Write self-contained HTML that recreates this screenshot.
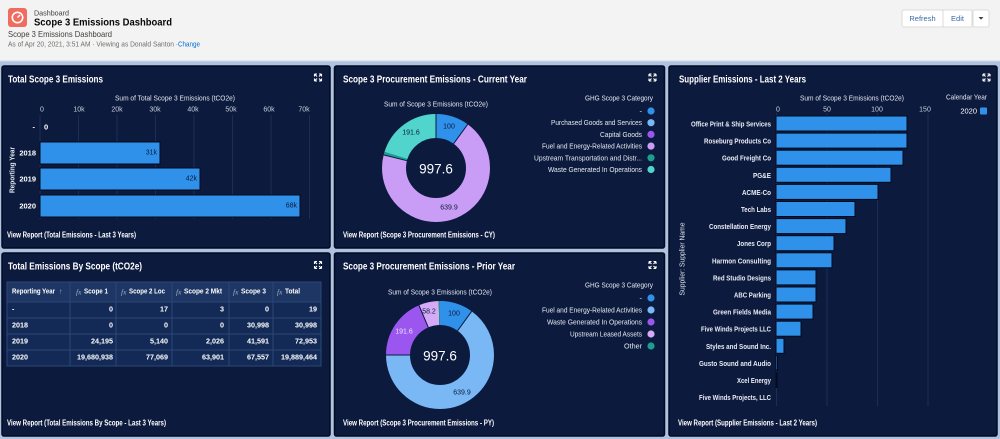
<!DOCTYPE html>
<html><head><meta charset="utf-8">
<style>
html,body{margin:0;padding:0;width:1000px;height:439px;overflow:hidden;background:#adc3e0;}
svg{display:block;font-family:"Liberation Sans",sans-serif;}
</style></head><body>
<svg width="1000" height="439" viewBox="0 0 1000 439" xmlns="http://www.w3.org/2000/svg">
<rect width="1000" height="439" fill="#adc3e0"/>

<!-- HEADER -->
<rect x="0" y="0" width="1000" height="61" fill="#f3f3f3"/>
<line x1="0" y1="61" x2="1000" y2="61" stroke="#d4d9e2"/>
<rect x="8" y="8" width="19" height="19" rx="3" fill="#ef6c5e"/>
<circle cx="17.5" cy="17.5" r="5.2" fill="none" stroke="#fff" stroke-width="1.6"/>
<path d="M17.5 17.5 L20 15" stroke="#fff" stroke-width="1.4"/>
<g dominant-baseline="central">
<text x="34" y="13" font-size="7.2" fill="#3e3e3c" textLength="35" lengthAdjust="spacingAndGlyphs">Dashboard</text>
<text x="34" y="22.5" font-size="10.5" font-weight="bold" fill="#080707" textLength="138" lengthAdjust="spacingAndGlyphs">Scope 3 Emissions Dashboard</text>
<text x="8" y="34" font-size="8.5" fill="#3e3e3c" textLength="104" lengthAdjust="spacingAndGlyphs">Scope 3 Emissions Dashboard</text>
<text x="8" y="45" font-size="7" fill="#706e6b" textLength="170" lengthAdjust="spacingAndGlyphs">As of Apr 20, 2021, 3:51 AM · Viewing as Donald Santon ·</text>
<text x="178" y="45" font-size="7" fill="#0070d2" textLength="22" lengthAdjust="spacingAndGlyphs">Change</text>
</g>
<rect x="902" y="10" width="41" height="17" rx="2" fill="#fff" stroke="#dddbda"/>
<rect x="943" y="10" width="29" height="17" rx="0" fill="#fff" stroke="#dddbda"/>
<rect x="973" y="10" width="16" height="17" rx="2" fill="#fff" stroke="#dddbda"/>
<g dominant-baseline="central" text-anchor="middle" font-size="7.5" fill="#3b6aa6">
<text x="922.5" y="18.5">Refresh</text>
<text x="957.5" y="18.5">Edit</text>
</g>
<path d="M978.5 17 L983.5 17 L981 19.8 Z" fill="#444"/>

<!-- PANELS -->
<g fill="#0c1a3e" stroke="#030b22" stroke-width="1.5">
<rect x="2" y="66" width="328" height="182" rx="2"/>
<rect x="2" y="253" width="328" height="183" rx="2"/>
<rect x="334.5" y="66" width="330" height="182" rx="2"/>
<rect x="334.5" y="253" width="330" height="183" rx="2"/>
<rect x="669" y="66" width="328" height="370" rx="2"/>
</g>

<!-- expand icons -->
<g stroke="#fff" stroke-width="1.1" fill="none">
<path transform="translate(318,77.5)" d="M-3.5,-3.5h2.5M-3.5,-3.5v2.5M-3.5,-3.5l2.5,2.5M3.5,-3.5h-2.5M3.5,-3.5v2.5M3.5,-3.5l-2.5,2.5M-3.5,3.5h2.5M-3.5,3.5v-2.5M-3.5,3.5l2.5,-2.5M3.5,3.5h-2.5M3.5,3.5v-2.5M3.5,3.5l-2.5,-2.5"/>
<path transform="translate(318,265)" d="M-3.5,-3.5h2.5M-3.5,-3.5v2.5M-3.5,-3.5l2.5,2.5M3.5,-3.5h-2.5M3.5,-3.5v2.5M3.5,-3.5l-2.5,2.5M-3.5,3.5h2.5M-3.5,3.5v-2.5M-3.5,3.5l2.5,-2.5M3.5,3.5h-2.5M3.5,3.5v-2.5M3.5,3.5l-2.5,-2.5"/>
<path transform="translate(652.5,77.5)" d="M-3.5,-3.5h2.5M-3.5,-3.5v2.5M-3.5,-3.5l2.5,2.5M3.5,-3.5h-2.5M3.5,-3.5v2.5M3.5,-3.5l-2.5,2.5M-3.5,3.5h2.5M-3.5,3.5v-2.5M-3.5,3.5l2.5,-2.5M3.5,3.5h-2.5M3.5,3.5v-2.5M3.5,3.5l-2.5,-2.5"/>
<path transform="translate(652.5,265)" d="M-3.5,-3.5h2.5M-3.5,-3.5v2.5M-3.5,-3.5l2.5,2.5M3.5,-3.5h-2.5M3.5,-3.5v2.5M3.5,-3.5l-2.5,2.5M-3.5,3.5h2.5M-3.5,3.5v-2.5M-3.5,3.5l2.5,-2.5M3.5,3.5h-2.5M3.5,3.5v-2.5M3.5,3.5l-2.5,-2.5"/>
<path transform="translate(986.5,77.5)" d="M-3.5,-3.5h2.5M-3.5,-3.5v2.5M-3.5,-3.5l2.5,2.5M3.5,-3.5h-2.5M3.5,-3.5v2.5M3.5,-3.5l-2.5,2.5M-3.5,3.5h2.5M-3.5,3.5v-2.5M-3.5,3.5l2.5,-2.5M3.5,3.5h-2.5M3.5,3.5v-2.5M3.5,3.5l-2.5,-2.5"/>
</g>

<!-- PANEL TITLES & VIEW REPORT -->
<g dominant-baseline="central" fill="#ffffff" font-weight="bold" lengthAdjust="spacingAndGlyphs">
<text x="8" y="80" font-size="10" textLength="95" lengthAdjust="spacingAndGlyphs">Total Scope 3 Emissions</text>
<text x="343" y="80" font-size="10" textLength="184" lengthAdjust="spacingAndGlyphs">Scope 3 Procurement Emissions - Current Year</text>
<text x="679" y="80" font-size="10" textLength="127" lengthAdjust="spacingAndGlyphs">Supplier Emissions - Last 2 Years</text>
<text x="8" y="267" font-size="10" textLength="134" lengthAdjust="spacingAndGlyphs">Total Emissions By Scope (tCO2e)</text>
<text x="343" y="267" font-size="10" textLength="172" lengthAdjust="spacingAndGlyphs">Scope 3 Procurement Emissions - Prior Year</text>
<text x="7" y="235" font-size="8" textLength="129" lengthAdjust="spacingAndGlyphs">View Report (Total Emissions - Last 3 Years)</text>
<text x="343" y="235" font-size="8" textLength="152" lengthAdjust="spacingAndGlyphs">View Report (Scope 3 Procurement Emissions - CY)</text>
<text x="7" y="423" font-size="8" textLength="159" lengthAdjust="spacingAndGlyphs">View Report (Total Emissions By Scope - Last 3 Years)</text>
<text x="343" y="423" font-size="8" textLength="151" lengthAdjust="spacingAndGlyphs">View Report (Scope 3 Procurement Emissions - PY)</text>
<text x="678" y="423" font-size="8" textLength="139" lengthAdjust="spacingAndGlyphs">View Report (Supplier Emissions - Last 2 Years)</text>
</g>

<!-- TOP-LEFT BAR CHART -->
<g stroke="#1e2d55" stroke-width="1">
<line x1="78.5" y1="115" x2="78.5" y2="219"/>
<line x1="117" y1="115" x2="117" y2="219"/>
<line x1="155.5" y1="115" x2="155.5" y2="219"/>
<line x1="194" y1="115" x2="194" y2="219"/>
<line x1="232.5" y1="115" x2="232.5" y2="219"/>
<line x1="271" y1="115" x2="271" y2="219"/>
<line x1="309.5" y1="115" x2="309.5" y2="219"/>
<line x1="40" y1="115" x2="40" y2="219"/>
</g>
<g dominant-baseline="central">
<text x="175" y="98" font-size="7.5" fill="#e3e7ee" text-anchor="middle" textLength="120" lengthAdjust="spacingAndGlyphs">Sum of Total Scope 3 Emissions (tCO2e)</text>
<g font-size="7" fill="#c8d0dd" text-anchor="middle">
<text x="42" y="110">0</text><text x="79" y="110">10k</text><text x="117" y="110">20k</text><text x="155" y="110">30k</text>
<text x="193" y="110">40k</text><text x="231" y="110">50k</text><text x="269" y="110">60k</text><text x="304" y="110">70k</text>
</g>
<g font-size="7.5" font-weight="bold" fill="#fff" text-anchor="end">
<text x="35" y="127">-</text><text x="36" y="153">2018</text><text x="36" y="179">2019</text><text x="36" y="206">2020</text>
</g>
<text x="44" y="127" font-size="7.5" font-weight="bold" fill="#fff">0</text>
<text transform="translate(12,170) rotate(-90)" x="0" y="0" font-size="7.5" font-weight="bold" fill="#e3e7ee" text-anchor="middle" textLength="46" lengthAdjust="spacingAndGlyphs">Reporting Year</text>
</g>
<g fill="#2f91ea" stroke="#020a1f" stroke-width="1">
<rect x="40" y="142" width="120" height="22"/>
<rect x="40" y="168" width="160" height="22"/>
<rect x="40" y="195" width="260" height="22"/>
</g>
<g dominant-baseline="central" font-size="7" fill="#0c1a3e" text-anchor="end">
<text x="157" y="153">31k</text><text x="197" y="179">42k</text><text x="297" y="206">68k</text>
</g>

<!-- TOP-MIDDLE DONUT -->
<text x="436" y="104" font-size="7.5" fill="#e3e7ee" text-anchor="middle" dominant-baseline="central" textLength="104" lengthAdjust="spacingAndGlyphs">Sum of Scope 3 Emissions (tCO2e)</text>
<g transform="rotate(-90 436 168)" fill="none" stroke-width="24">
<circle cx="436" cy="168" r="42" stroke="#2f91ea" stroke-dasharray="26.39 300" stroke-dashoffset="0"/>
<circle cx="436" cy="168" r="42" stroke="#c99df5" stroke-dasharray="181.79 300" stroke-dashoffset="-26.39"/>
<circle cx="436" cy="168" r="42" stroke="#1c9e8f" stroke-dasharray="2.2 300" stroke-dashoffset="-208.18"/>
<circle cx="436" cy="168" r="42" stroke="#50d4cb" stroke-dasharray="53.51 300" stroke-dashoffset="-210.38"/>
</g>
<g stroke="#0c1a3e" stroke-width="1">
<line x1="436" y1="138" x2="436" y2="114"/>
<line x1="453.6" y1="143.7" x2="467.7" y2="124.3"/>
<line x1="406.9" y1="160.7" x2="383.6" y2="154.9"/>
</g>
<g dominant-baseline="central" text-anchor="middle">
<text x="449" y="127" font-size="7" fill="#0c1a3e">100</text>
<text x="411" y="133" font-size="7" fill="#0c1a3e">191.6</text>
<text x="449" y="208" font-size="7" fill="#0c1a3e">639.9</text>
<text x="436" y="169" font-size="13.5" fill="#fff">997.6</text>
</g>
<g dominant-baseline="central" text-anchor="end" font-size="7.5" fill="#e6eaf0">
<text x="653" y="98" textLength="68" lengthAdjust="spacingAndGlyphs">GHG Scope 3 Category</text>
<text x="642" y="111">-</text>
<text x="642" y="122.7" textLength="91" lengthAdjust="spacingAndGlyphs">Purchased Goods and Services</text>
<text x="642" y="134.4" textLength="42" lengthAdjust="spacingAndGlyphs">Capital Goods</text>
<text x="642" y="146.1" textLength="100" lengthAdjust="spacingAndGlyphs">Fuel and Energy-Related Activities</text>
<text x="642" y="157.8" textLength="108" lengthAdjust="spacingAndGlyphs">Upstream Transportation and Distr...</text>
<text x="642" y="169.5" textLength="94" lengthAdjust="spacingAndGlyphs">Waste Generated In Operations</text>
</g>
<circle cx="651" cy="111" r="3.6" fill="#2f91ea"/>
<circle cx="651" cy="122.7" r="3.6" fill="#7ab8f5"/>
<circle cx="651" cy="134.4" r="3.6" fill="#9b56f0"/>
<circle cx="651" cy="146.1" r="3.6" fill="#c99df5"/>
<circle cx="651" cy="157.8" r="3.6" fill="#1c9e8f"/>
<circle cx="651" cy="169.5" r="3.6" fill="#50d4cb"/>

<!-- BOTTOM-MIDDLE DONUT -->
<text x="440" y="292" font-size="7.5" fill="#e3e7ee" text-anchor="middle" dominant-baseline="central" textLength="104" lengthAdjust="spacingAndGlyphs">Sum of Scope 3 Emissions (tCO2e)</text>
<g transform="rotate(-90 440 355)" fill="none" stroke-width="24">
<circle cx="440" cy="355" r="42" stroke="#2f91ea" stroke-dasharray="26.39 300" stroke-dashoffset="0"/>
<circle cx="440" cy="355" r="42" stroke="#7ab8f5" stroke-dasharray="171.53 300" stroke-dashoffset="-26.39"/>
<circle cx="440" cy="355" r="42" stroke="#9b56f0" stroke-dasharray="49.11 300" stroke-dashoffset="-197.92"/>
<circle cx="440" cy="355" r="42" stroke="#d5aaf7" stroke-dasharray="15.39 300" stroke-dashoffset="-247.03"/>
<circle cx="440" cy="355" r="42" stroke="#1c9e8f" stroke-dasharray="1.47 300" stroke-dashoffset="-262.42"/>
</g>
<g stroke="#0c1a3e" stroke-width="1">
<line x1="457.6" y1="330.7" x2="471.7" y2="311.3"/>
<line x1="410" y1="355" x2="386" y2="355"/>
<line x1="428.3" y1="327.4" x2="418.9" y2="305.3"/>
</g>
<g dominant-baseline="central" text-anchor="middle">
<text x="454" y="314" font-size="7" fill="#0c1a3e">100</text>
<text x="429" y="312" font-size="7" fill="#0c1a3e">58.2</text>
<text x="404" y="332" font-size="7" fill="#f0e8ff">191.6</text>
<text x="462" y="393" font-size="7" fill="#0c1a3e">639.9</text>
<text x="440" y="356" font-size="13.5" fill="#fff">997.6</text>
</g>
<g dominant-baseline="central" text-anchor="end" font-size="7.5" fill="#e6eaf0">
<text x="653" y="285" textLength="68" lengthAdjust="spacingAndGlyphs">GHG Scope 3 Category</text>
<text x="642" y="298">-</text>
<text x="642" y="310" textLength="100" lengthAdjust="spacingAndGlyphs">Fuel and Energy-Related Activities</text>
<text x="642" y="322" textLength="95" lengthAdjust="spacingAndGlyphs">Waste Generated In Operations</text>
<text x="642" y="334" textLength="72" lengthAdjust="spacingAndGlyphs">Upstream Leased Assets</text>
<text x="642" y="346" textLength="18" lengthAdjust="spacingAndGlyphs">Other</text>
</g>
<circle cx="651" cy="298" r="3.6" fill="#2f91ea"/>
<circle cx="651" cy="310" r="3.6" fill="#7ab8f5"/>
<circle cx="651" cy="322" r="3.6" fill="#9b56f0"/>
<circle cx="651" cy="334" r="3.6" fill="#d5aaf7"/>
<circle cx="651" cy="346" r="3.6" fill="#1c9e8f"/>

<!-- TABLE -->
<rect x="7" y="282" width="314" height="84" fill="#132a56"/>
<rect x="7" y="282" width="314" height="20" fill="#1e3663"/>
<g stroke="#2d4777" stroke-width="1" fill="none">
<rect x="7" y="282" width="314" height="84"/>
<line x1="7" y1="302" x2="321" y2="302"/>
<line x1="7" y1="318" x2="321" y2="318"/>
<line x1="7" y1="334" x2="321" y2="334"/>
<line x1="7" y1="350" x2="321" y2="350"/>
<line x1="70" y1="282" x2="70" y2="366"/>
<line x1="116" y1="282" x2="116" y2="366"/>
<line x1="172" y1="282" x2="172" y2="366"/>
<line x1="229" y1="282" x2="229" y2="366"/>
<line x1="273" y1="282" x2="273" y2="366"/>
</g>
<g dominant-baseline="central" font-size="7" font-weight="bold" fill="#fff">
<text x="12" y="292" textLength="43" lengthAdjust="spacingAndGlyphs">Reporting Year</text>
<text x="59" y="292" font-weight="normal" fill="#aab8cc">↑</text>
<text x="84" y="292" textLength="24" lengthAdjust="spacingAndGlyphs">Scope 1</text>
<text x="129" y="292" textLength="36" lengthAdjust="spacingAndGlyphs">Scope 2 Loc</text>
<text x="184" y="292" textLength="38" lengthAdjust="spacingAndGlyphs">Scope 2 Mkt</text>
<text x="241" y="292" textLength="25" lengthAdjust="spacingAndGlyphs">Scope 3</text>
<text x="285" y="292" textLength="15" lengthAdjust="spacingAndGlyphs">Total</text>
</g>
<g dominant-baseline="central" font-size="7.5" font-style="italic" font-family="Liberation Serif, serif" fill="#9fb1ca">
<text x="76" y="292">fx</text><text x="121" y="292">fx</text><text x="176" y="292">fx</text><text x="233" y="292">fx</text><text x="277" y="292">fx</text>
</g>
<g dominant-baseline="central" font-size="7.2" font-weight="bold" fill="#fff">
<text x="12" y="309">-</text><text x="12" y="325">2018</text><text x="12" y="341">2019</text><text x="12" y="357">2020</text>
</g>
<g dominant-baseline="central" font-size="7.2" font-weight="bold" fill="#fff" text-anchor="end">
<text x="113" y="309">0</text><text x="168" y="309">17</text><text x="224" y="309">3</text><text x="269" y="309">0</text><text x="317" y="309">19</text>
<text x="113" y="325">0</text><text x="168" y="325">0</text><text x="224" y="325">0</text><text x="269" y="325">30,998</text><text x="317" y="325">30,998</text>
<text x="113" y="341">24,195</text><text x="168" y="341">5,140</text><text x="224" y="341">2,026</text><text x="269" y="341">41,591</text><text x="317" y="341">72,953</text>
<text x="113" y="357">19,680,938</text><text x="168" y="357">77,069</text><text x="224" y="357">63,901</text><text x="269" y="357">67,557</text><text x="317" y="357">19,889,464</text>
</g>

<!-- RIGHT BAR CHART -->
<g stroke="#1e2d55" stroke-width="1">
<line x1="776.5" y1="113" x2="776.5" y2="406"/>
<line x1="827" y1="113" x2="827" y2="406"/>
<line x1="877.5" y1="113" x2="877.5" y2="406"/>
<line x1="928" y1="113" x2="928" y2="406"/>
</g>
<g dominant-baseline="central">
<text x="852" y="98" font-size="7.5" fill="#e3e7ee" text-anchor="middle" textLength="104" lengthAdjust="spacingAndGlyphs">Sum of Scope 3 Emissions (tCO2e)</text>
<g font-size="7" fill="#c8d0dd" text-anchor="middle">
<text x="778" y="110">0</text><text x="827" y="110">50</text><text x="877" y="110">100</text><text x="925" y="110">150</text>
</g>
<text x="987" y="97" font-size="7.5" fill="#e3e7ee" text-anchor="end" textLength="41" lengthAdjust="spacingAndGlyphs">Calendar Year</text>
<text x="977" y="111" font-size="7.5" fill="#fff" text-anchor="end">2020</text>
<text transform="translate(682,259) rotate(-90)" x="0" y="0" font-size="7.5" fill="#e3e7ee" text-anchor="middle" textLength="73" lengthAdjust="spacingAndGlyphs">Supplier: Supplier Name</text>
</g>
<rect x="980" y="107.5" width="7" height="7" rx="1" fill="#2f91ea"/>
<g fill="#2f91ea" stroke="#020a1f" stroke-width="1">
<rect x="776" y="116" width="131" height="15"/>
<rect x="776" y="133.1" width="131" height="15"/>
<rect x="776" y="150.2" width="127" height="15"/>
<rect x="776" y="167.3" width="115" height="15"/>
<rect x="776" y="184.4" width="102" height="15"/>
<rect x="776" y="201.5" width="79" height="15"/>
<rect x="776" y="218.6" width="70" height="15"/>
<rect x="776" y="235.7" width="58" height="15"/>
<rect x="776" y="252.8" width="56" height="15"/>
<rect x="776" y="269.9" width="40" height="15"/>
<rect x="776" y="287" width="40" height="15"/>
<rect x="776" y="304.1" width="37" height="15"/>
<rect x="776" y="321.2" width="25" height="15"/>
<rect x="776" y="338.3" width="8" height="15"/>
<rect x="776" y="355.4" width="1.5" height="15"/>
<rect x="776" y="372.5" width="1" height="15"/>
</g>
<g dominant-baseline="central" text-anchor="end" font-size="7.5" font-weight="bold" fill="#e8ecf2">
<text x="771" y="124" textLength="80" lengthAdjust="spacingAndGlyphs">Office Print &amp; Ship Services</text>
<text x="771" y="141.1" textLength="67" lengthAdjust="spacingAndGlyphs">Roseburg Products Co</text>
<text x="771" y="158.2" textLength="49" lengthAdjust="spacingAndGlyphs">Good Freight Co</text>
<text x="771" y="175.3" textLength="18" lengthAdjust="spacingAndGlyphs">PG&amp;E</text>
<text x="771" y="192.4" textLength="29" lengthAdjust="spacingAndGlyphs">ACME-Co</text>
<text x="771" y="209.5" textLength="30" lengthAdjust="spacingAndGlyphs">Tech Labs</text>
<text x="771" y="226.6" textLength="62" lengthAdjust="spacingAndGlyphs">Constellation Energy</text>
<text x="771" y="243.7" textLength="34" lengthAdjust="spacingAndGlyphs">Jones Corp</text>
<text x="771" y="260.8" textLength="59" lengthAdjust="spacingAndGlyphs">Harmon Consulting</text>
<text x="771" y="277.9" textLength="58" lengthAdjust="spacingAndGlyphs">Red Studio Designs</text>
<text x="771" y="295" textLength="37" lengthAdjust="spacingAndGlyphs">ABC Parking</text>
<text x="771" y="312.1" textLength="58" lengthAdjust="spacingAndGlyphs">Green Fields Media</text>
<text x="771" y="329.2" textLength="70" lengthAdjust="spacingAndGlyphs">Five Winds Projects LLC</text>
<text x="771" y="346.3" textLength="65" lengthAdjust="spacingAndGlyphs">Styles and Sound Inc.</text>
<text x="771" y="363.4" textLength="72" lengthAdjust="spacingAndGlyphs">Gusto Sound and Audio</text>
<text x="771" y="380.5" textLength="34" lengthAdjust="spacingAndGlyphs">Xcel Energy</text>
<text x="771" y="397.6" textLength="72" lengthAdjust="spacingAndGlyphs">Five Winds Projects, LLC</text>
</g>
</svg>
</body></html>
